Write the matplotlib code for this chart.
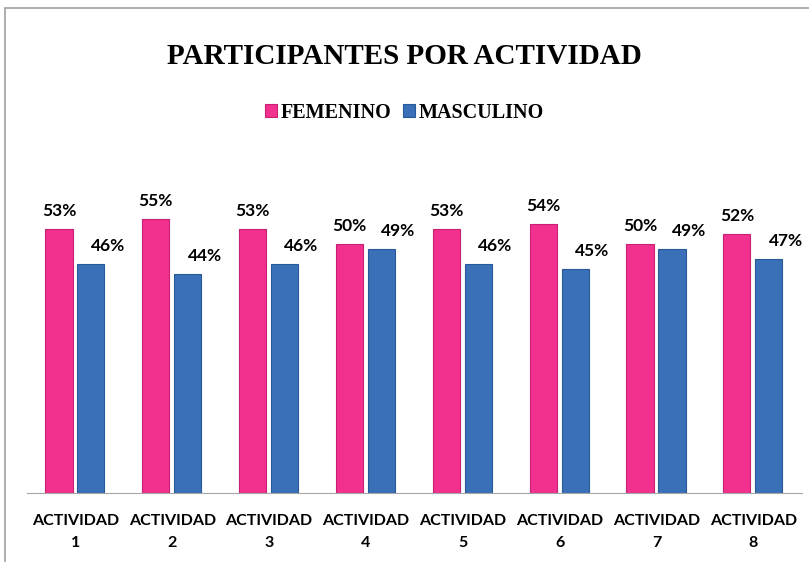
import matplotlib.pyplot as plt
import numpy as np
from matplotlib.patches import Rectangle

categories = ["ACTIVIDAD\n1", "ACTIVIDAD\n2", "ACTIVIDAD\n3", "ACTIVIDAD\n4",
              "ACTIVIDAD\n5", "ACTIVIDAD\n6", "ACTIVIDAD\n7", "ACTIVIDAD\n8"]
femenino = [53, 55, 53, 50, 53, 54, 50, 52]
masculino = [46, 44, 46, 49, 46, 45, 49, 47]

pink = "#F2318F"
blue = "#3A70B8"

fig = plt.figure(figsize=(8.09, 5.62), dpi=100)
ax = fig.add_axes([0.0334, 0.1228, 0.9576, 0.532])

x = np.arange(len(categories))
w = 0.28
b1 = ax.bar(x - 0.17, femenino, w, color=pink, edgecolor="#C81F72", linewidth=0.8)
b2 = ax.bar(x + 0.16, masculino, w, color=blue, edgecolor="#285A9A", linewidth=0.8)

# etiquetas de porcentaje
for xi, v in zip(x, femenino):
    ax.text(xi - 0.17, v + 3.6, f"{v}%", ha="center", va="center",
            fontsize=12.5, fontweight="bold", family="Lato")
for xi, v in zip(x, masculino):
    ax.text(xi + 0.16 + 0.175, v + 3.6, f"{v}%", ha="center", va="center",
            fontsize=12.5, fontweight="bold", family="Lato")

ax.set_xlim(-0.5, len(categories) - 0.5)
ax.set_ylim(0, 60)
ax.set_xticks(x)
ax.set_xticklabels(categories, fontsize=11.5, fontweight="bold", family="Lato",
                   linespacing=1.7)
ax.tick_params(axis="x", length=0, pad=15)
ax.set_yticks([])
for s in ["top", "right", "left"]:
    ax.spines[s].set_visible(False)
ax.spines["bottom"].set_color("#A6A6A6")

fig.text(0.5, 0.8995, "PARTICIPANTES POR ACTIVIDAD", ha="center", va="center",
         fontsize=21, fontweight="bold", family="Liberation Serif")
fig.legend([b1, b2], ["FEMENINO", "MASCULINO"], loc="center",
           bbox_to_anchor=(0.5, 0.799), ncol=2, frameon=False,
           prop={"family": "Liberation Serif", "weight": "bold", "size": 14.5},
           handlelength=0.6, handleheight=0.6, handletextpad=0.15, columnspacing=0.6)

fig.patches.append(Rectangle((5 / 809, -0.1), 1.1, (562 - 8) / 562 + 0.1,
                             transform=fig.transFigure, fill=False,
                             edgecolor="#A0A0A0", linewidth=1.2))

fig.savefig("out.png", dpi=100)
